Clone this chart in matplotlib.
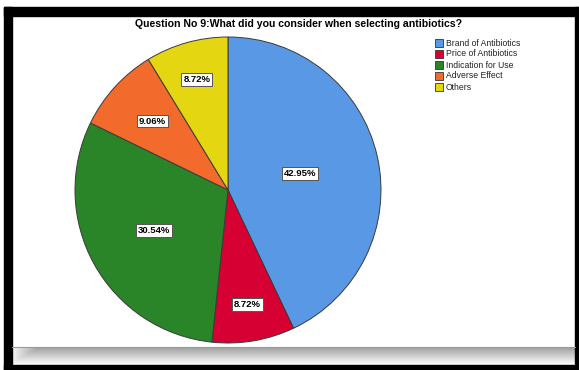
import numpy as np
import matplotlib.pyplot as plt
from matplotlib.patches import Rectangle

# Question 9 responses (percent of respondents)
categories = ["Brand of Antibiotics", "Price of Antibiotics", "Indication for Use",
              "Adverse Effect", "Others"]
percents = [42.95, 8.72, 30.54, 9.06, 8.72]
colors = ["#5898E4", "#D60032", "#2A8528", "#F26A2C", "#E5D612"]
# radial position of each percentage box (fraction of radius)
label_r = [0.48, 0.76, 0.55, 0.67, 0.75]

W, H = 579, 370
fig = plt.figure(figsize=(W / 100, H / 100), dpi=100)
fig.patch.set_facecolor("white")


def fx(px):
    return px / W


def fy(py):
    return 1 - py / H


# black frame and grey shadow strip along the bottom
bg = fig.add_axes([0, 0, 1, 1])
grad = np.linspace(0.62, 1.0, 40)[:, None] * np.ones((1, 200))
grad[:, :8] = np.maximum(grad[:, :8], np.linspace(0.95, 0.7, 8)[None, :])
bg.imshow(grad, cmap="gray", vmin=0, vmax=1, extent=(12, 575, 365, 347),
          aspect="auto", interpolation="bilinear")
bg.set_xlim(0, W)
bg.set_ylim(H, 0)
bg.axis("off")
bg.add_patch(Rectangle((4, 7), W - 4, 9, color="black"))
bg.add_patch(Rectangle((4, 7), 8, H - 7, color="black"))
bg.add_patch(Rectangle((4, 365), W - 4, 5, color="black"))
bg.add_patch(Rectangle((575, 7), 3, H - 7, color="black"))
bg.plot([12, 575], [347, 347], color="#9a9a9a", lw=0.8)

# pie centred at (228, 190) px with radius 153 px
cx, cy, r = 228, 190, 153
ax = fig.add_axes([fx(cx - r), fy(cy + r), 2 * r / W, 2 * r / H])
wedges, _ = ax.pie(percents, colors=colors, startangle=90, counterclock=False,
                   radius=1, wedgeprops=dict(edgecolor="#3a3a3a", linewidth=0.7))
ax.set_xlim(-1, 1)
ax.set_ylim(-1, 1)
ax.set_aspect("auto")

start = 90.0
for p, lr in zip(percents, label_r):
    mid = np.deg2rad(start - p * 3.6 / 2)
    start -= p * 3.6
    ax.text(lr * np.cos(mid), lr * np.sin(mid), f"{p:.2f}%", ha="center", va="center",
            fontsize=6.8, fontweight="bold", family="Liberation Sans",
            bbox=dict(boxstyle="square,pad=0.2", facecolor="white",
                      edgecolor="#555555", linewidth=0.7))

fig.text(fx(299), fy(24), "Question No 9:What did you consider when selecting antibiotics?",
         ha="center", va="center", fontsize=7.6, fontweight="bold", family="Liberation Sans")

# legend
for i, (name, c) in enumerate(zip(categories, colors)):
    y = 43 + i * 11
    bg.add_patch(Rectangle((435, y - 4), 8, 8, facecolor=c, edgecolor="#333333", lw=0.6))
    bg.text(446, y, name, ha="left", va="center", fontsize=6.2,
            family="Liberation Sans", color="#222222")

fig.savefig("out.png", dpi=100)
